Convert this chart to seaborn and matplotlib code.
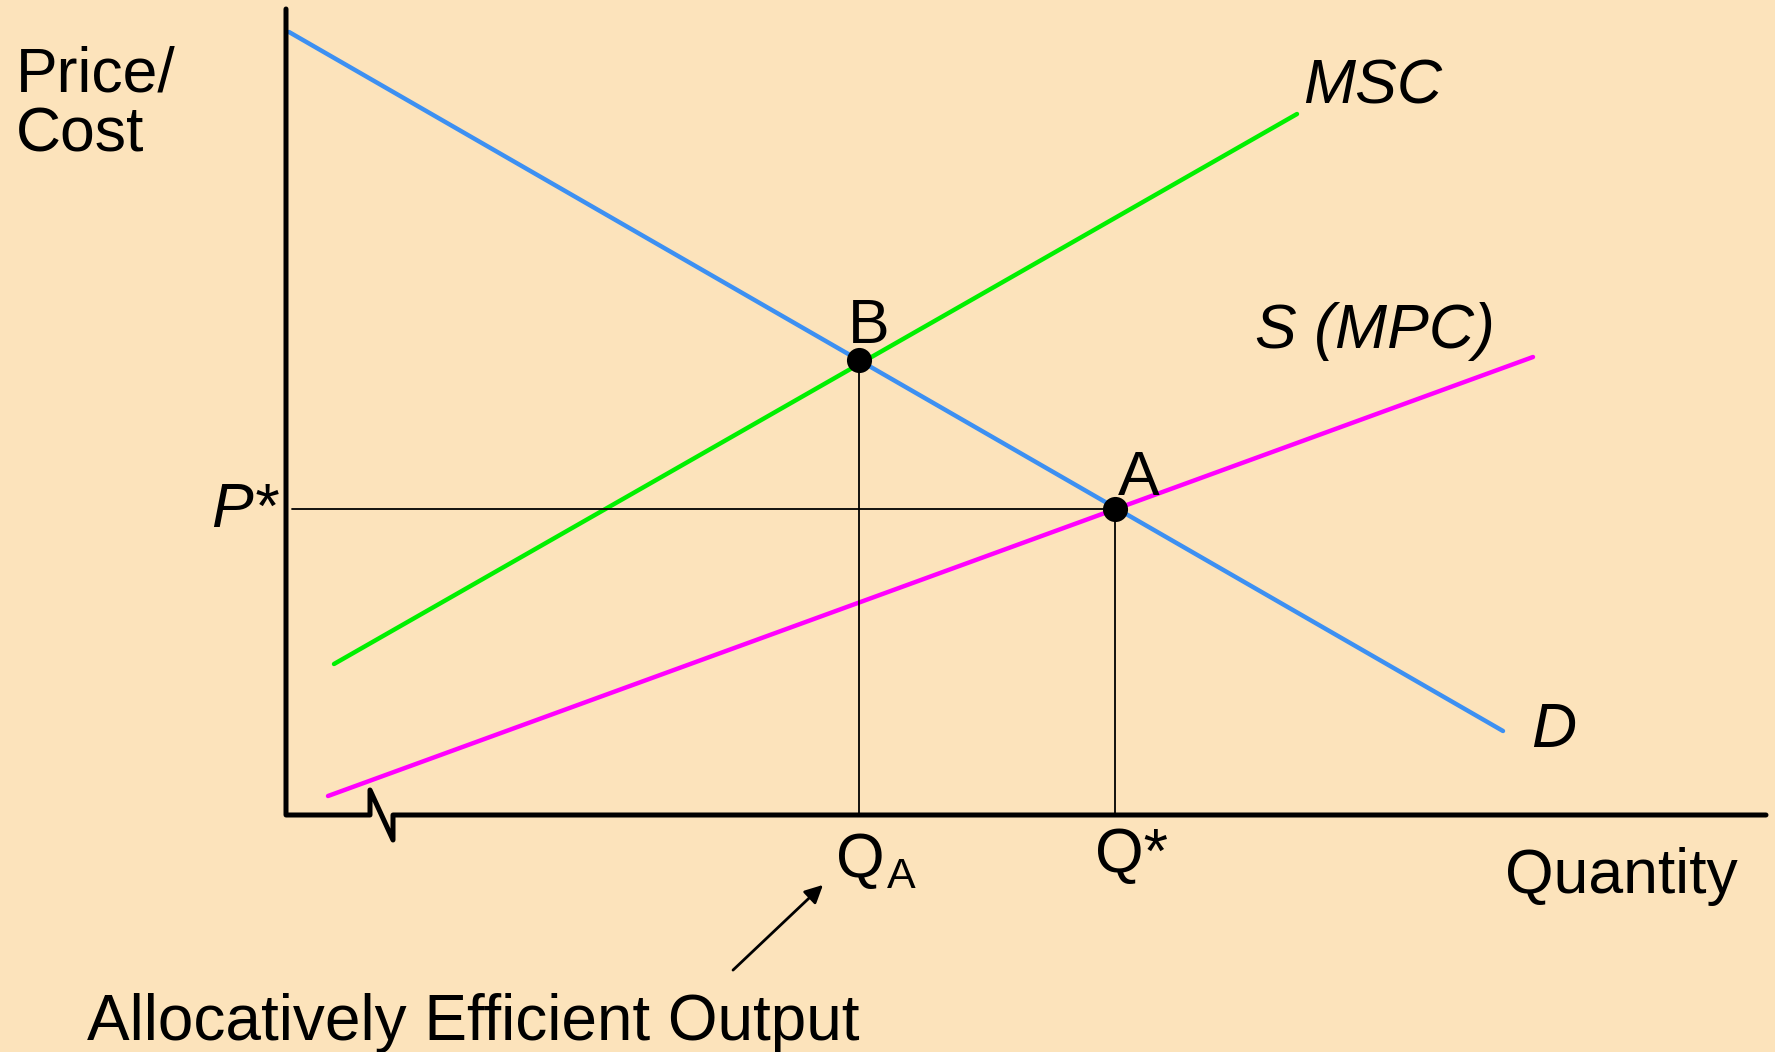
import matplotlib
matplotlib.use("Agg")
import matplotlib.pyplot as plt
import seaborn as sns
import pandas as pd

# DATA (quantity / price units, origin at the axis corner)
curve_names = ["D", "MSC", "S (MPC)"]
curve_x = [[0.3, 121.7], [4.8, 101.1], [4.2, 124.7]]
curve_y = [[78.3, 8.4], [15.1, 70.1], [1.9, 45.8]]
point_names = ["B", "A"]
point_x = [57.3, 82.9]
point_y = [45.5, 30.6]

rows = []
for name, xs, ys in zip(curve_names, curve_x, curve_y):
    for x, y in zip(xs, ys):
        rows.append({"curve": name, "q": x, "p": y})
df = pd.DataFrame(rows)

BG = "#fce3bb"
sns.set_theme(style="white", rc={"axes.facecolor": BG, "figure.facecolor": BG,
                                 "text.color": "black"})
plt.rcParams["font.family"] = ["Liberation Sans", "DejaVu Sans"]

fig = plt.figure(figsize=(17.75, 10.52), dpi=100)
ax = fig.add_axes([0, 0, 1, 1])
ax.set_xlim(-28.6, 148.9)
ax.set_ylim(-23.7, 81.5)
ax.axis("off")

palette = {"D": "#3d90f2", "MSC": "#00f000", "S (MPC)": "#ff00ff"}
sns.lineplot(data=df, x="q", y="p", hue="curve", palette=palette,
             linewidth=3.2, legend=False, ax=ax, estimator=None, sort=False)

# guide lines
bx, ax_ = point_x
by, ay = point_y
ax.plot([0.6, ax_], [ay, ay], color="black", lw=1.3)
ax.plot([bx, bx], [0, by], color="black", lw=1.3)
ax.plot([ax_, ax_], [0, ay], color="black", lw=1.3)

# axes with break
ax.plot([0, 0, 8.4, 8.4, 10.7, 10.7, 148], [80.6, 0, 0, 2.5, -2.5, 0, 0],
        color="black", lw=3.6, solid_joinstyle="round", solid_capstyle="round")

sns.scatterplot(x=point_x, y=point_y, color="black", s=280, ax=ax,
                edgecolor="black", zorder=5, legend=False)

fs = 45
ax.text(-27, 72.4, "Price/", fontsize=fs, va="baseline")
ax.text(-27, 66.3, "Cost", fontsize=fs, va="baseline")
ax.text(101.7, 71.1, "MSC", fontsize=fs, style="italic", va="baseline")
ax.text(96.9, 46.7, "S (MPC)", fontsize=fs, style="italic", va="baseline")
ax.text(124.5, 6.8, "D", fontsize=fs, style="italic", va="baseline")
ax.text(-7.5, 28.8, "P*", fontsize=fs, style="italic", va="baseline")
ax.text(56.2, 47.2, "B", fontsize=fs, va="baseline")
ax.text(83.2, 32.0, "A", fontsize=fs, va="baseline")
ax.text(55.0, -6.2, "Q", fontsize=fs, va="baseline")
ax.text(60.1, -7.3, "A", fontsize=31, va="baseline")
ax.text(80.9, -5.7, "Q*", fontsize=fs, va="baseline")
ax.text(121.9, -7.8, "Quantity", fontsize=fs, va="baseline")
ax.text(-19.9, -22.5, "Allocatively Efficient Output", fontsize=46,
        va="baseline")

ax.annotate("", xy=(53.9, -6.8), xytext=(44.5, -15.7),
            arrowprops=dict(arrowstyle="-|>,head_length=0.9,head_width=0.45",
                            color="black", lw=2))

fig.savefig("out.png", dpi=100, facecolor=BG)
